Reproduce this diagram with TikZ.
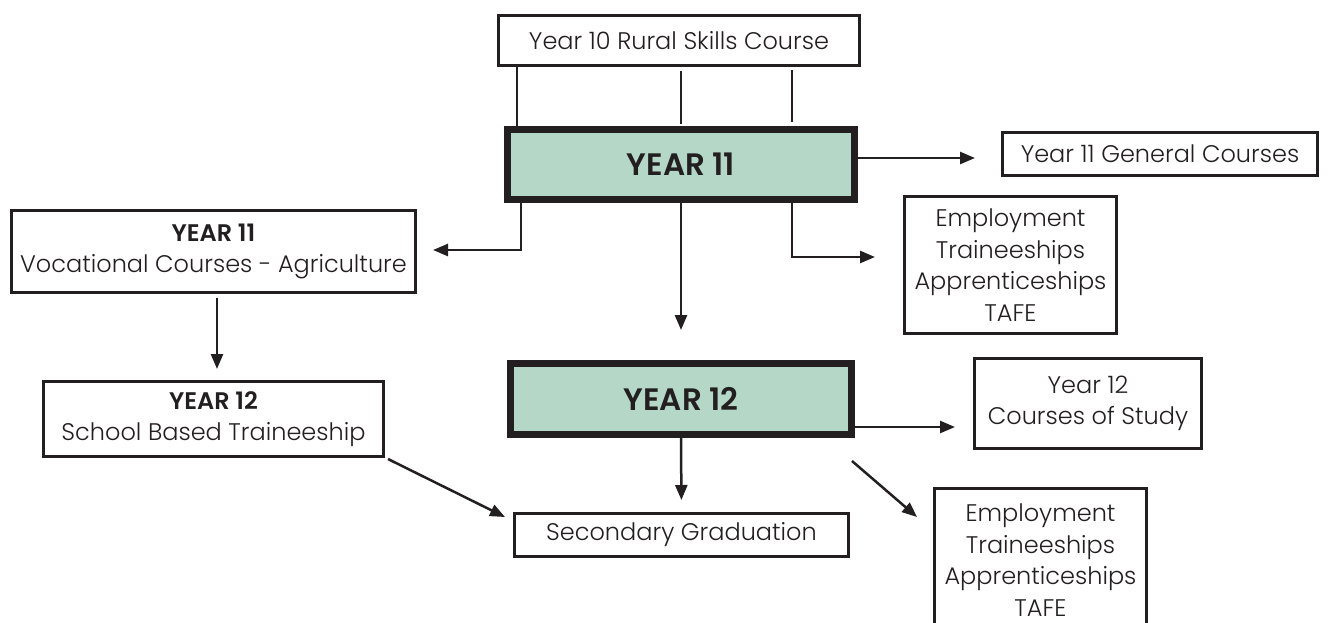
\documentclass[tikz,border=0pt]{standalone}
\usepackage{fontspec}
\setmainfont{Poppins}[UprightFont=* Light, BoldFont=* SemiBold]
\usetikzlibrary{arrows.meta,calc}
\definecolor{ink}{HTML}{231F20}
\definecolor{sage}{HTML}{B4D7C7}
\begin{document}
\begin{tikzpicture}[x=1pt,y=-1pt,
  every node/.style={inner sep=0pt,align=center,text=ink,font=\fontsize{24}{31.5}\selectfont},
  plainbox/.style={draw=ink,line width=3pt,fill=white},
  yearbox/.style={draw=ink,line width=7pt,fill=sage,font=\fontsize{31}{36}\selectfont\bfseries},
  link/.style={draw=ink,line width=2.5pt},
  arr/.style={link,-{Triangle[length=15pt,width=12pt]}}]
\useasboundingbox (0,0) rectangle (1328,622);

% boxes
\node[plainbox,minimum width=361,minimum height=50] (top) at (679,40.5) {Year 10 Rural Skills Course};
\node[yearbox,minimum width=347,minimum height=70] (y11) at (681,164.5) {YEAR 11};
\node[plainbox,minimum width=315,minimum height=43] (gen11) at (1160,154) {Year 11 General Courses};
\node[plainbox,minimum width=404,minimum height=82] (voc) at (213.5,251.5) {\textbf{YEAR 11}\\Vocational Courses - Agriculture};
\node[plainbox,minimum width=212,minimum height=137] (emp1) at (1010.5,265) {Employment\\Traineeships\\Apprenticeships\\TAFE};
\node[yearbox,minimum width=341,minimum height=71] (y12) at (681,399) {YEAR 12};
\node[plainbox,minimum width=340,minimum height=75] (sbt) at (213.5,419) {\textbf{YEAR 12}\\School Based Traineeship};
\node[plainbox,minimum width=227,minimum height=90] (c12) at (1088,403.5) {Year 12\\Courses of Study};
\node[plainbox,minimum width=334,minimum height=43] (grad) at (681.5,535) {Secondary Graduation};
% runs past the lower edge of the page
\node[plainbox,minimum width=212,minimum height=143] (emp2) at (1040.5,560) {Employment\\Traineeships\\Apprenticeships\\TAFE};

% column guides
\coordinate (xa) at (517,0);
\coordinate (xb) at (681,0);
\coordinate (xc) at (792,0);
\coordinate (xd) at (521,0);

% links from the Year 10 course into Year 11
\draw[link] (top.south -| xa) -- (y11.north -| xa);
\draw[link] ([yshift=-4]top.south -| xb) -- ([yshift=2]y11.north -| xb);
\draw[link] ([yshift=-3]top.south -| xc) -- ([yshift=4]y11.north -| xc);

% Year 11 outlets
\draw[arr,shorten >=16pt] (y11.south -| xd) |- ([yshift=1.5]voc.east);
\draw[arr,shorten >=30pt] (y11.south -| xb) -- (y12.north -| xb);
\draw[arr,shorten >=28pt] (y11.south -| xc) |- ([yshift=8]emp1.west);
\draw[arr,shorten >=26pt] ([yshift=6.5]y11.east) -- ([yshift=-4]gen11.west);

% vocational stream
\draw[arr,shorten <=4pt,shorten >=11pt] ([xshift=3.5]voc.south) -- ([xshift=3.5]sbt.north);
\coordinate (gtip) at (505,517);
\draw[arr] ([shift={(3,1)}]sbt.south east) -- (gtip);

% Year 12 outlets
\draw[arr,shorten >=12pt] (y12.south) -- (grad.north);
\draw[arr,shorten >=18pt] ([yshift=-28]y12.east) -- ([yshift=-23.5]c12.west);
\coordinate (ea) at (852,461);
\coordinate (eb) at (917,517);
\draw[arr] (ea) -- (eb);
\end{tikzpicture}
\end{document}
